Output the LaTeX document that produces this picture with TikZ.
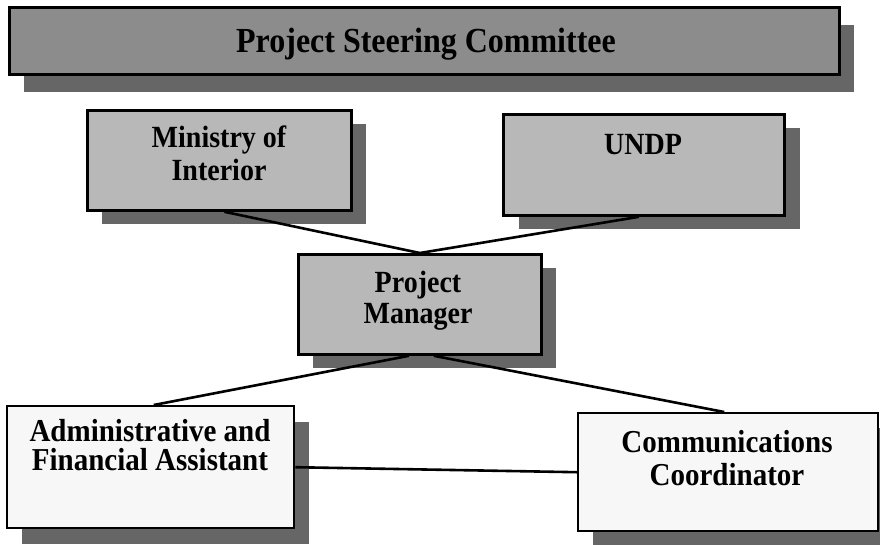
\documentclass[tikz,border=0pt]{standalone}
\usepackage{fontspec}
\setmainfont{Liberation Serif}
\usetikzlibrary{shadows,calc}
\definecolor{shd}{gray}{0.40}
\definecolor{fillA}{gray}{0.55}
\definecolor{fillB}{gray}{0.72}
\definecolor{fillC}{gray}{0.97}
\newcommand\fsz[2]{\fontsize{#1}{#2}\selectfont\bfseries}
\newcommand\tallx[1]{\scalebox{1}[1.1]{#1}}
\begin{document}
\begin{tikzpicture}[x=1pt,y=-1pt,
  box/.style={draw=black, rectangle, inner sep=0pt, anchor=north west, line width=2.8pt},
  shad/.style 2 args={drop shadow={shadow xshift=#1pt, shadow yshift=-#2pt, fill=shd, opacity=1}},
  lbl/.style={inner sep=0pt, align=center, text=black},
  conn/.style={draw=black, line width=2.6pt}]
\useasboundingbox (0,0) rectangle (880,544);
\fill[white] (0,0) rectangle (880,544);
% boxes
\node[box, fill=fillA, line width=3.2pt, shad={14}{17}, minimum width=830pt, minimum height=67pt] (psc) at (8,6) {};
\node[box, fill=fillB, shad={15}{14}, minimum width=264pt, minimum height=100pt] (min) at (86,109) {};
\node[box, fill=fillB, shad={16}{14}, minimum width=281pt, minimum height=101pt] (undp) at (502,113) {};
\node[box, fill=fillB, shad={15}{14}, minimum width=243pt, minimum height=100pt] (pm) at (297,253) {};
\node[box, fill=fillC, line width=2.4pt, shad={15}{16}, minimum width=287pt, minimum height=122pt] (adm) at (6,405) {};
\node[box, fill=fillC, line width=2.4pt, shad={15}{15}, minimum width=300pt, minimum height=118pt] (com) at (577,412) {};
% texts
\node[lbl, anchor=base, font=\fsz{32}{36}] (psc-t) at (426,52) {\tallx{Project Steering Committee}};
\node[lbl, anchor=north, font=\fsz{28}{33}] (min-t) at (219,126) {\tallx{Ministry of}\\\tallx{Interior}};
\node[lbl, anchor=base, font=\fsz{28}{33}] (undp-t) at (643,154) {\tallx{UNDP}};
\node[lbl, anchor=north, font=\fsz{28}{31}] (pm-t) at (418,271) {\tallx{Project}\\\tallx{Manager}};
\node[lbl, anchor=north, font=\fsz{29}{29}] (adm-t) at (150,419) {\tallx{Administrative and}\\\tallx{Financial Assistant}};
\node[lbl, anchor=north, font=\fsz{29}{33}] (com-t) at (727,430) {\tallx{Communications}\\\tallx{Coordinator}};
% connectors
\draw[conn] ($(min.south)+(5,0)$) -- (pm.north);
\draw[conn] ($(undp.south)+(-5,0)$) -- (pm.north);
\draw[conn] ($(pm.south)+(-11,0)$) -- ($(adm.north)+(3,0)$);
\draw[conn] ($(pm.south)+(14,0)$) -- ($(com.north)+(-4,0)$);
\draw[conn] (adm.east) -- (com.west);
\end{tikzpicture}
\end{document}
